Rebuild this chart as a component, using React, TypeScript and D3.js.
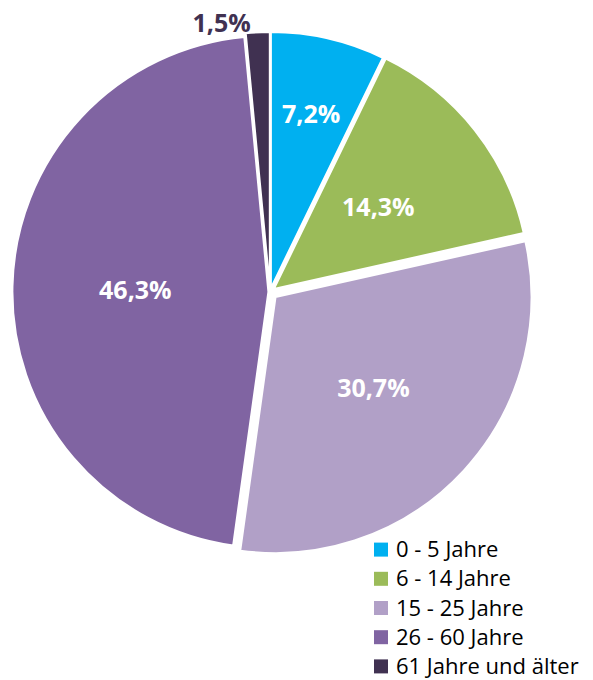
import React from "react";
import * as d3 from "d3";

const categories = ["0 - 5 Jahre", "6 - 14 Jahre", "15 - 25 Jahre", "26 - 60 Jahre", "61 Jahre und älter"];
const values = [7.2, 14.3, 30.7, 46.3, 1.5];
const labels = ["7,2%", "14,3%", "30,7%", "46,3%", "1,5%"];
const colors = ["#00B0F0", "#9BBB59", "#B1A0C7", "#8064A2", "#403151"];
const explode = [4, 5, 7.5, 1.6, 4];

const W = 593;
const H = 680;
const cx = 270;
const cy = 292;
const R = 256;
const FONT = "'Open Sans', 'Noto Sans', sans-serif";

export default function App() {
  const pie = d3.pie<number>().sort(null).value((d) => d).startAngle(0).endAngle(2 * Math.PI);
  const arcs = pie(values);
  const arc = d3.arc<d3.PieArcDatum<number>>().innerRadius(0).outerRadius(R);

  const legendY = d3.scaleBand<string>().domain(categories).range([535, 681]).paddingInner(0);

  return (
    <svg width={W} height={H} style={{ display: "block", position: "absolute", left: 0, top: 0 }}>
      <rect width={W} height={H} fill="#fff" />
      <g transform={`translate(${cx},${cy})`}>
        {arcs.map((a, i) => {
          const mid = (a.startAngle + a.endAngle) / 2;
          const dx = Math.sin(mid) * explode[i];
          const dy = -Math.cos(mid) * explode[i];
          return (
            <path
              key={i}
              d={arc(a) || ""}
              transform={`translate(${dx},${dy})`}
              fill={colors[i]}
              stroke="#fff"
              strokeWidth={2}
              strokeLinejoin="miter"
            />
          );
        })}
        {arcs.map((a, i) => {
          const mid = (a.startAngle + a.endAngle) / 2;
          const share = values[i] / d3.sum(values);
          const dx = Math.sin(mid) * explode[i];
          const dy = -Math.cos(mid) * explode[i];
          if (share < 0.03) {
            const sx = Math.sin(a.startAngle) * R + dx;
            const sy = -Math.cos(a.startAngle) * R + dy;
            return (
              <text
                key={"l" + i}
                x={sx + 5}
                y={sy - 1}
                textAnchor="end"
                fontFamily={FONT}
                fontWeight={700}
                fontSize={25}
                fill={colors[i]}
              >
                {labels[i]}
              </text>
            );
          }
          const lr = share < 0.1 ? R * 0.7 : R * 0.52;
          const la = d3.arc<d3.PieArcDatum<number>>().innerRadius(lr).outerRadius(lr);
          const [x, y] = la.centroid(a);
          return (
            <text
              key={"l" + i}
              x={x + dx}
              y={y + dy}
              textAnchor="middle"
              dominantBaseline="central"
              fontFamily={FONT}
              fontWeight={700}
              fontSize={25}
              fill="#fff"
            >
              {labels[i]}
            </text>
          );
        })}
      </g>
      <g>
        {categories.map((c, i) => {
          const y = (legendY(c) || 0) + legendY.bandwidth() / 2;
          return (
            <g key={c}>
              <rect x={374} y={y - 7} width={14} height={14} fill={colors[i]} />
              <text x={396} y={y + 7.5} fontFamily={FONT} fontSize={22} fill="#000">
                {c}
              </text>
            </g>
          );
        })}
      </g>
    </svg>
  );
}
